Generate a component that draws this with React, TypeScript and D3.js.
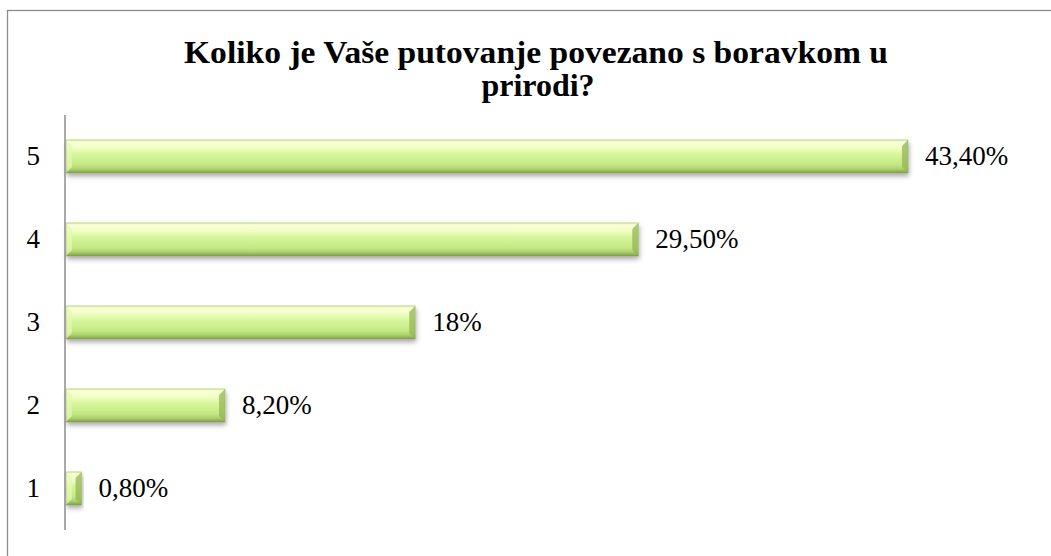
import React, { useRef, useEffect } from 'react';
import * as d3 from 'd3';

const categories: string[] = ['5', '4', '3', '2', '1'];
const values: number[] = [43.4, 29.5, 18, 8.2, 0.8];
const valueLabels: string[] = ['43,40%', '29,50%', '18%', '8,20%', '0,80%'];
const titleLines: string[] = ['Koliko je Vaše putovanje povezano s boravkom u', 'prirodi?'];

const W = 1051;
const H = 556;

const App: React.FC = () => {
    const svgRef = useRef<SVGSVGElement | null>(null);

    useEffect(() => {
        const svg = d3.select(svgRef.current);
        svg.selectAll('*').remove();

        const margin = { top: 115, right: 15, bottom: 26, left: 66 };

        const defs = svg.append('defs');
        const grad = defs.append('linearGradient')
            .attr('id', 'barGrad')
            .attr('x1', 0).attr('y1', 0).attr('x2', 0).attr('y2', 1);
        [
            ['0%', '#d9ec9c'],
            ['6%', '#fbffdc'],
            ['22%', '#f3fec8'],
            ['45%', '#d5f59a'],
            ['75%', '#c4e884'],
            ['88%', '#acd06a'],
            ['100%', '#7d9c45']
        ].forEach(([o, c]) => grad.append('stop').attr('offset', o).attr('stop-color', c));

        const shadow = defs.append('filter')
            .attr('id', 'shadow')
            .attr('x', '-10%').attr('y', '-20%').attr('width', '120%').attr('height', '160%');
        shadow.append('feDropShadow')
            .attr('dx', 1).attr('dy', 3).attr('stdDeviation', 2.5)
            .attr('flood-color', '#000').attr('flood-opacity', 0.35);

        // outer border (right/bottom edges fall outside the picture)
        svg.append('rect')
            .attr('x', 7.5).attr('y', 10.5)
            .attr('width', W + 20).attr('height', H + 20)
            .attr('fill', 'white')
            .attr('stroke', '#8c8c8c')
            .attr('stroke-width', 1.3);

        // title
        const title = svg.append('text')
            .attr('text-anchor', 'middle')
            .style('font-family', '"Liberation Serif", "DejaVu Serif", serif')
            .style('font-weight', 'bold')
            .style('font-size', '32px')
            .attr('fill', '#000');
        title.append('tspan').attr('x', 536).attr('y', 63)
            .attr('textLength', 704).attr('lengthAdjust', 'spacingAndGlyphs')
            .text(titleLines[0]);
        title.append('tspan').attr('x', 538).attr('y', 96)
            .text(titleLines[1]);

        const x = d3.scaleLinear()
            .domain([0, 50])
            .range([margin.left, margin.left + 970]);

        const y = d3.scaleBand<string>()
            .domain(categories)
            .range([margin.top, H - margin.bottom])
            .paddingInner(0.6)
            .paddingOuter(0.3);

        const g = svg.append('g');

        const bars = g.selectAll('g.bar')
            .data(values)
            .enter().append('g')
            .attr('class', 'bar');

        bars.append('rect')
            .attr('x', x(0))
            .attr('y', (d, i) => y(categories[i]) as number)
            .attr('width', d => x(d) - x(0))
            .attr('height', y.bandwidth())
            .attr('fill', 'url(#barGrad)')
            .attr('filter', 'url(#shadow)');

        // bevel: left lighter, right darker
        const bev = 6;
        bars.append('polygon')
            .attr('points', (d, i) => {
                const y0 = y(categories[i]) as number;
                const y1 = y0 + y.bandwidth();
                const w = Math.min(bev, (x(d) - x(0)) / 2);
                return `${x(0)},${y0} ${x(0) + w},${y0 + w} ${x(0) + w},${y1 - w} ${x(0)},${y1}`;
            })
            .attr('fill', '#e4f8b4')
            .attr('opacity', 0.7);
        bars.append('polygon')
            .attr('points', (d, i) => {
                const y0 = y(categories[i]) as number;
                const y1 = y0 + y.bandwidth();
                const w = Math.min(bev, (x(d) - x(0)) / 2);
                return `${x(d)},${y0} ${x(d) - w},${y0 + w} ${x(d) - w},${y1 - w} ${x(d)},${y1}`;
            })
            .attr('fill', '#94b455')
            .attr('opacity', 0.75);
        bars.append('rect')
            .attr('x', x(0))
            .attr('y', (d, i) => y(categories[i]) as number)
            .attr('width', d => x(d) - x(0))
            .attr('height', y.bandwidth())
            .attr('fill', 'none')
            .attr('stroke', '#8aa84e')
            .attr('stroke-width', 0.6)
            .attr('stroke-opacity', 0.6);

        bars.append('text')
            .attr('x', d => x(d) + 17)
            .attr('y', (d, i) => (y(categories[i]) as number) + y.bandwidth() / 2)
            .attr('dy', '0.33em')
            .style('font-family', '"Liberation Serif", "DejaVu Serif", serif')
            .style('font-size', '27px')
            .attr('fill', '#000')
            .text((d, i) => valueLabels[i]);

        // axis
        const axis = svg.append('g')
            .attr('transform', `translate(${margin.left - 1},0)`)
            .call(d3.axisLeft(y).tickSize(0).tickPadding(25));
        axis.select('.domain')
            .attr('d', `M0,${margin.top}V${H - margin.bottom}`)
            .attr('stroke', '#8c8c8c')
            .attr('stroke-width', 1.5);
        axis.selectAll('text')
            .style('font-family', '"Liberation Serif", "DejaVu Serif", serif')
            .style('font-size', '27px')
            .attr('fill', '#000')
            .attr('dy', '0.33em');
    }, []);

    return (
        <svg
            ref={svgRef}
            width={W}
            height={H}
            style={{ position: 'absolute', left: 0, top: 0, background: '#fff' }}
        />
    );
};

export default App;
